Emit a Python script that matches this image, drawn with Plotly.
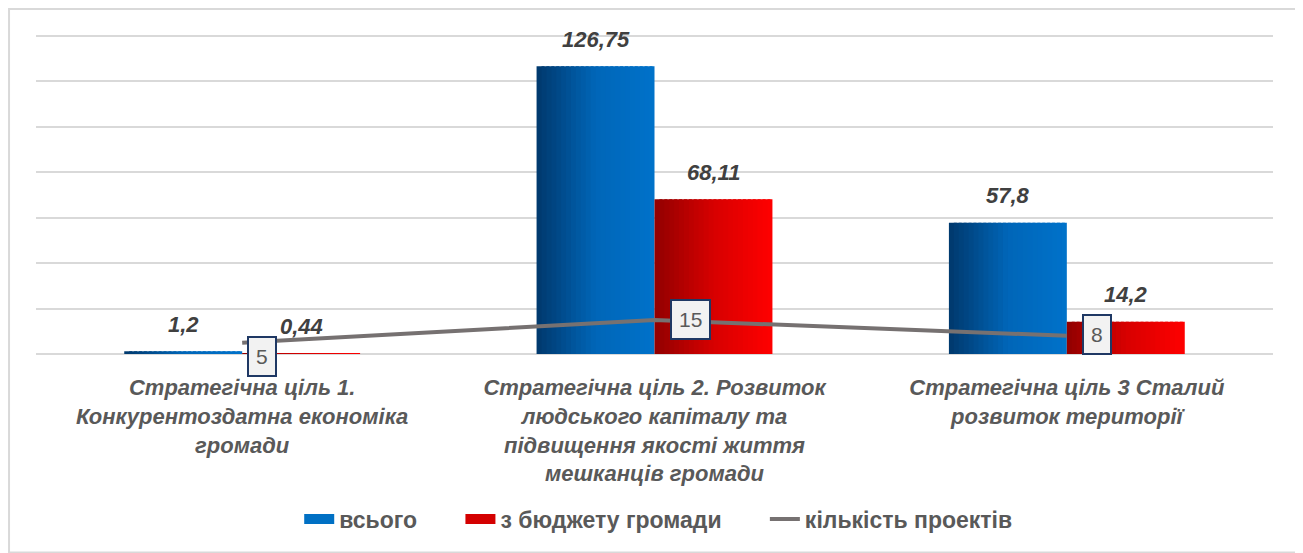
import plotly.graph_objects as go

categories = [
    "Стратегічна ціль 1.<br>Конкурентоздатна економіка<br>громади",
    "Стратегічна ціль 2. Розвиток<br>людського капіталу та<br>підвищення якості життя<br>мешканців громади",
    "Стратегічна ціль 3 Сталий<br>розвиток території",
]
total = [1.2, 126.75, 57.8]
budget = [0.44, 68.11, 14.2]
projects = [5, 15, 8]
series_names = ["всього", "з бюджету громади", "кількість проектів"]


def fmt(v):
    return ("%g" % v).replace(".", ",")


def lerp(c0, c1, t):
    return "rgb(%d,%d,%d)" % tuple(round(a + (b - a) * t) for a, b in zip(c0, c1))


def grad(stops, t):
    for (t0, c0), (t1, c1) in zip(stops, stops[1:]):
        if t <= t1:
            return lerp(c0, c1, (t - t0) / (t1 - t0) if t1 > t0 else 0)
    return lerp(stops[-1][1], stops[-1][1], 0)


blue_stops = [(0, (0, 56, 108)), (0.5, (0, 102, 184)), (1, (0, 114, 202))]
red_stops = [(0, (145, 0, 0)), (0.5, (215, 0, 0)), (1, (255, 0, 0))]

BW = 0.286
N = 24
fig = go.Figure()
for vals, stops, start in [(total, blue_stops, -BW), (budget, red_stops, 0.0)]:
    step = BW / N
    for i in range(N):
        w = step * 1.6 if i < N - 1 else step
        fig.add_trace(go.Bar(
            x=categories, y=vals, offset=start + i * step, width=w,
            marker=dict(color=grad(stops, (i + 0.5) / N), line=dict(width=0)),
            showlegend=False, hoverinfo="skip",
        ))

pad = "\u00a0" * 6
fig.add_trace(go.Scatter(
    x=categories, y=projects, mode="lines",
    line=dict(color="#767171", width=4), name=series_names[2],
    showlegend=True, legendrank=3,
))
# legend swatches
fig.add_trace(go.Scatter(x=[None], y=[None], mode="lines", name=series_names[0] + pad,
                         line=dict(color="#0070c4", width=10), legendrank=1))
fig.add_trace(go.Scatter(x=[None], y=[None], mode="lines", name=series_names[1] + pad,
                         line=dict(color="#d40000", width=10), legendrank=2))

annotations = []
lab_font = dict(family="Liberation Sans, Arial", size=22, color="#404040",
                weight="bold", style="italic")
for i in range(len(categories)):
    annotations.append(dict(x=i - BW / 2, y=total[i], xref="x", yref="y",
                            text=fmt(total[i]), showarrow=False, yanchor="middle",
                            yshift=27, font=lab_font))
    annotations.append(dict(x=i + BW / 2, y=budget[i], xref="x", yref="y",
                            text=fmt(budget[i]), showarrow=False, yanchor="middle",
                            yshift=27, font=lab_font))

box_shift = [(5, -14), (15, 0), (15, 1)]
for i in range(len(categories)):
    annotations.append(dict(
        x=i, y=projects[i], xref="x", yref="y", text=str(projects[i]),
        showarrow=False, xanchor="left", yanchor="middle",
        xshift=box_shift[i][0], yshift=box_shift[i][1],
        font=dict(family="Liberation Sans, Arial", size=21, color="#595959"),
        bgcolor="#f2f2f2", bordercolor="#1f3864", borderwidth=2, borderpad=7,
    ))

fig.update_layout(
    width=1295, height=545,
    margin=dict(l=28, r=30, t=26, b=197),
    paper_bgcolor="white", plot_bgcolor="white",
    barmode="overlay",
    annotations=annotations,
    legend=dict(orientation="h", x=0.503, xanchor="center", y=-0.516, yanchor="middle",
                font=dict(family="Liberation Sans, Arial", size=23, color="#595959",
                          weight="bold"),
                traceorder="normal"),
    shapes=[dict(type="rect", xref="paper", yref="paper",
                 x0=-0.0218, x1=1.0218, y0=1.078, y1=-0.62,
                 line=dict(color="#d9d9d9", width=2), layer="below")],
)
fig.update_yaxes(range=[0, 140.9], tick0=0, dtick=20, showticklabels=False,
                 gridcolor="#d9d9d9", gridwidth=1.5, zeroline=True,
                 zerolinecolor="#d9d9d9", zerolinewidth=1.5)
fig.update_xaxes(showline=False, ticks="outside", ticklen=14, tickcolor="rgba(0,0,0,0)",
                 showgrid=False,
                 tickfont=dict(family="Liberation Sans, Arial", size=22, color="#595959",
                               weight="bold", style="italic"))

fig.write_html("out.html")
